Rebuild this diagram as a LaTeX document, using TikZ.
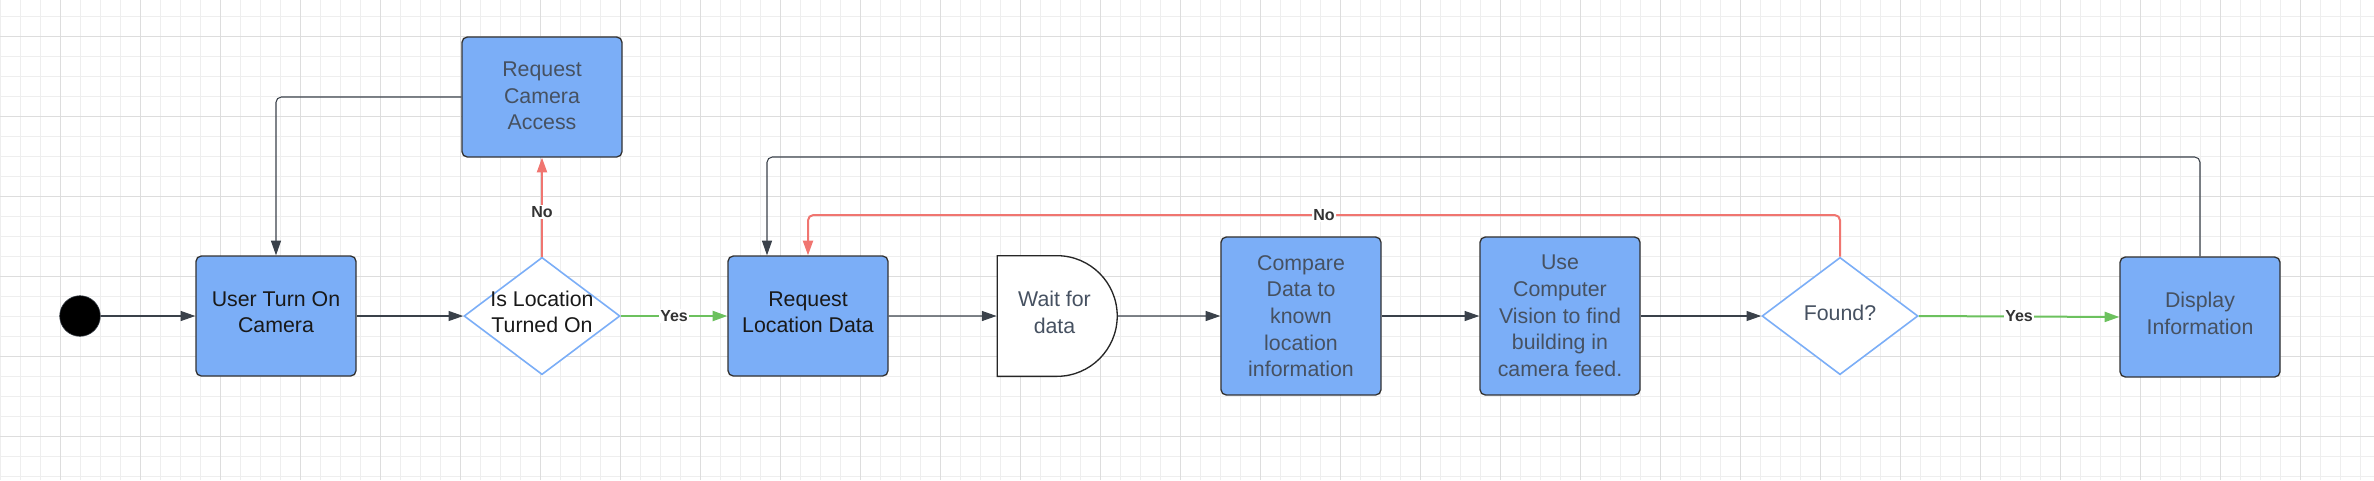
\documentclass[tikz,border=0pt]{standalone}
\usepackage{fontspec}
\setmainfont{Liberation Sans}
\usetikzlibrary{arrows.meta,shapes.geometric,shapes.misc}
\definecolor{boxblue}{HTML}{7BAEF7}
\definecolor{linegray}{HTML}{3A414A}
\definecolor{nored}{HTML}{F07570}
\definecolor{yesgreen}{HTML}{6CC15E}
\definecolor{txtgray}{HTML}{465161}
\definecolor{gridminor}{HTML}{EEEEEE}
\definecolor{gridmajor}{HTML}{DDDDDD}
\newcommand{\gridpaper}[2]{
  \begin{scope}[line width=0.75pt]
    \foreach \x in {0,20,...,#1}{
      \draw[gridminor] (\x,0)--(\x,#2);
    }
    \foreach \y in {16,36,...,#2}{
      \draw[gridminor] (0,\y)--(#1,\y);
    }
    \foreach \x in {60,140,...,#1}{
      \draw[gridmajor] (\x,0)--(\x,#2);
    }
    \foreach \y in {36,116,...,#2}{
      \draw[gridmajor] (0,\y)--(#1,\y);
    }
  \end{scope}
}
\tikzset{
  boxfont/.style={font=\fontsize{16}{20}\selectfont},
  stepbox/.style={draw=black!80, fill=boxblue, rounded corners=4pt, line width=1pt,
    minimum width=120pt, minimum height=90pt, inner sep=0pt, align=center, boxfont, text=txtgray},
  decision/.style={diamond, draw=boxblue, fill=white, line width=1.2pt,
    minimum width=117pt, minimum height=88pt, inner sep=0pt},
  waitbox/.style={rounded rectangle, rounded rectangle left arc=none, draw=black!85, fill=white,
    line width=1pt, minimum width=90pt, minimum height=90.5pt, inner sep=0pt, align=center, boxfont, text=txtgray},
  startdot/.style={circle, fill=black, draw=linegray, minimum size=30.5pt, inner sep=0pt},
  lift/.style={text depth=#1},
  flow/.style={draw=linegray, line width=0.8pt, rounded corners=4pt, -{Triangle[length=11pt,width=7.5pt]}},
  noflow/.style={draw=nored, line width=1.5pt, rounded corners=4pt, -{Triangle[length=11pt,width=7.5pt]}},
  yesflow/.style={draw=yesgreen, line width=1.5pt, -{Triangle[length=11pt,width=7.5pt]}},
  lbl/.style={fill=white, inner sep=1pt, text=black!80, font=\bfseries\fontsize{12}{14}\selectfont}
}
\begin{document}
\begin{tikzpicture}[x=0.75pt,y=-0.75pt]
  \useasboundingbox (0,0) rectangle (2374,480);
  \gridpaper{2374}{480}
  \node (S) [startdot] at (80,316) {};
  \node (A1) [stepbox, lift=6pt, text=black!90] at (276,316) {User Turn On\\Camera};
  \node (A2) [stepbox, lift=2pt] at (542,97) {Request\\Camera\\Access};
  \node (D1) [decision, label={[align=center, boxfont, yshift=3pt, text=black!90]center:Is Location\\Turned On}] at (542,316) {};
  \node (B1) [stepbox, lift=6pt, text=black!90] at (808,316) {Request\\Location Data};
  \node (B2) [waitbox, lift=6pt] at (1054.5,316) {Wait for\\data};
  \node (B3) [stepbox, minimum height=118.5pt] at (1301,316) {Compare\\Data to\\known\\location\\information};
  \node (B4) [stepbox, minimum height=118.5pt] at (1560,316) {Use\\Computer\\Vision to find\\building in\\camera feed.};
  \node (D2) [decision, label={[boxfont, yshift=2.5pt, text=txtgray]center:Found?}] at (1840,316) {};
  \node (C) [stepbox, lift=6pt] at (2200,317) {Display\\Information};
  \coordinate (R) at (808,215);
  \coordinate (T) at (767,157);
  \draw [flow] (S) to (A1);
  \draw [flow] (A1) to (D1);
  \draw [noflow] (D1) to node [lbl, pos=0.45] {No} (A2);
  \draw [flow] (A2.west) -| (A1.north);
  \draw [yesflow] (D1) to node [lbl] {Yes} (B1);
  \draw [flow] (B1) to (B2);
  \draw [flow] (B2) to (B3);
  \draw [flow] (B3) to (B4);
  \draw [flow] (B4) to (D2);
  \draw [yesflow] (D2.east) to node [lbl] {Yes} (C.west);
  \draw [noflow] (D2.north) |- node [lbl, pos=0.75] {No} (R) -- (B1.north);
  \draw [flow] (C.north) |- (T) -- (T |- B1.north);
\end{tikzpicture}
\end{document}
